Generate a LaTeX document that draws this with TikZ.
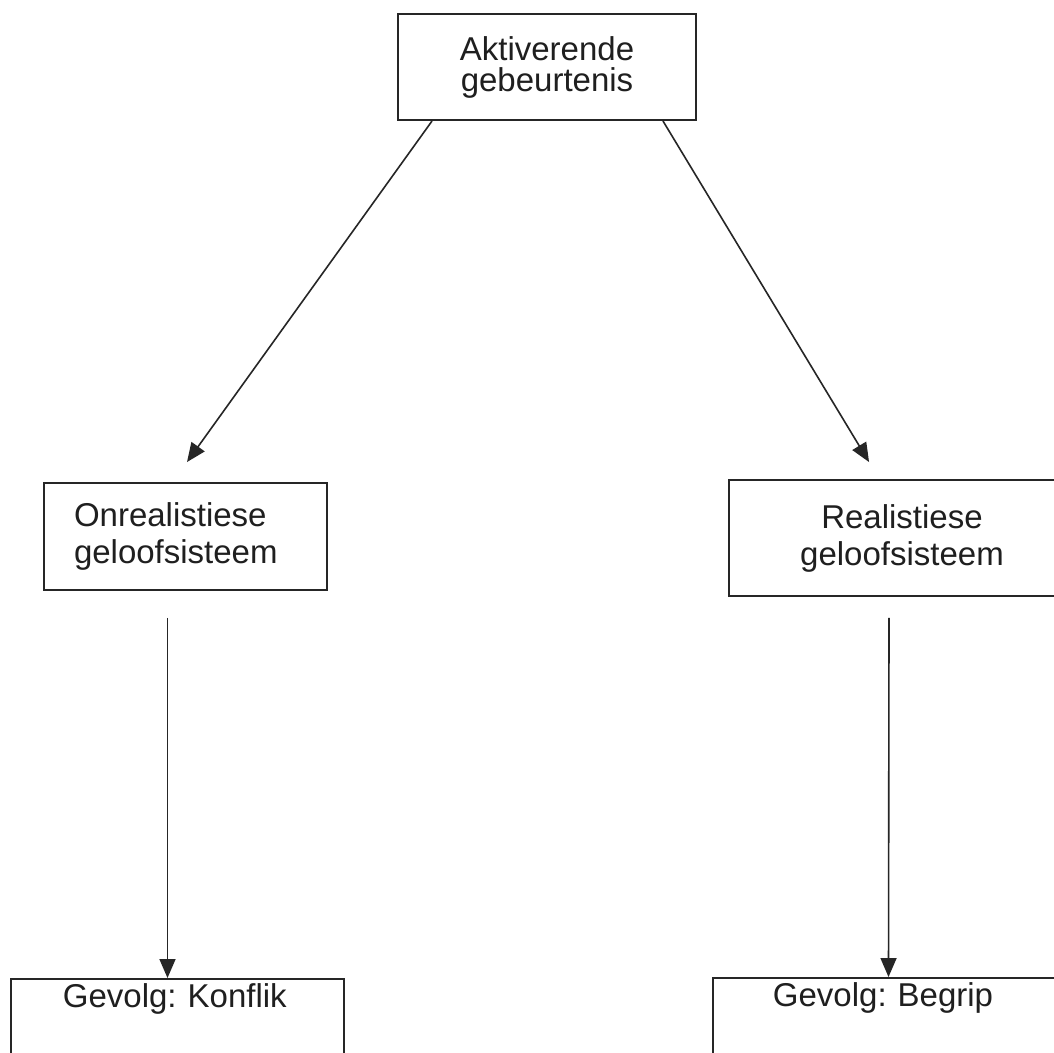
\documentclass[tikz,border=0pt]{standalone}
\usepackage{fontspec}
\setmainfont{Liberation Sans}
\usetikzlibrary{arrows.meta}
\begin{document}
\frenchspacing
\hyphenpenalty=10000
\begin{tikzpicture}[x=1pt,y=-1pt,
  box/.style={draw=black!85, line width=1.9pt, inner sep=0pt, text=black!88,
    font=\fontsize{33}{37}\selectfont},
  arr/.style={draw=black!85, line width=1.6pt, -{Triangle[length=19pt,width=16pt]}}]
\useasboundingbox (0,0) rectangle (1054,1052);
\clip (0,0) rectangle (1054,1052);
\fill[white] (0,0) rectangle (1054,1052);
% nodes
\node[box, minimum width=298pt, minimum height=106pt, align=center,
  font=\fontsize{33}{31}\selectfont] (act) at (547,67) {Aktiverende\\gebeurtenis};
\node[box, text width=223pt, inner xsep=30pt, minimum height=107pt, align=left]
  (onr) at (185.5,536.5) {Onrealistiese\\geloofsisteem};
\node[box, minimum width=346pt, minimum height=116pt, align=center]
  (rea) at (902,538) {Realistiese\\geloofsisteem};
\node[box, anchor=north west, text width=249pt, inner xsep=42pt, align=left,
  text height=29pt, text depth=80pt] (kon) at (10,978) {\hspace*{10pt}Gevolg: Konflik};
\node[box, anchor=north west, text width=240pt, inner xsep=60pt, align=left,
  text height=29pt, text depth=80pt] (beg) at (712,977) {Gevolg: Begrip};
% connectors
\draw[arr] ([xshift=35pt]act.south west) -- ([xshift=1.5pt,yshift=20pt]onr.north);
\draw[arr] ([xshift=-34pt]act.south east) -- ([xshift=141pt,yshift=17pt]rea.north west);
\draw[arr] ([xshift=-18pt,yshift=-27pt]onr.south) -- ([xshift=157.5pt]kon.north west);
\draw[arr] ([xshift=-13pt,yshift=-21pt]rea.south) -- ([xshift=176.5pt]beg.north west);
\end{tikzpicture}
\end{document}
